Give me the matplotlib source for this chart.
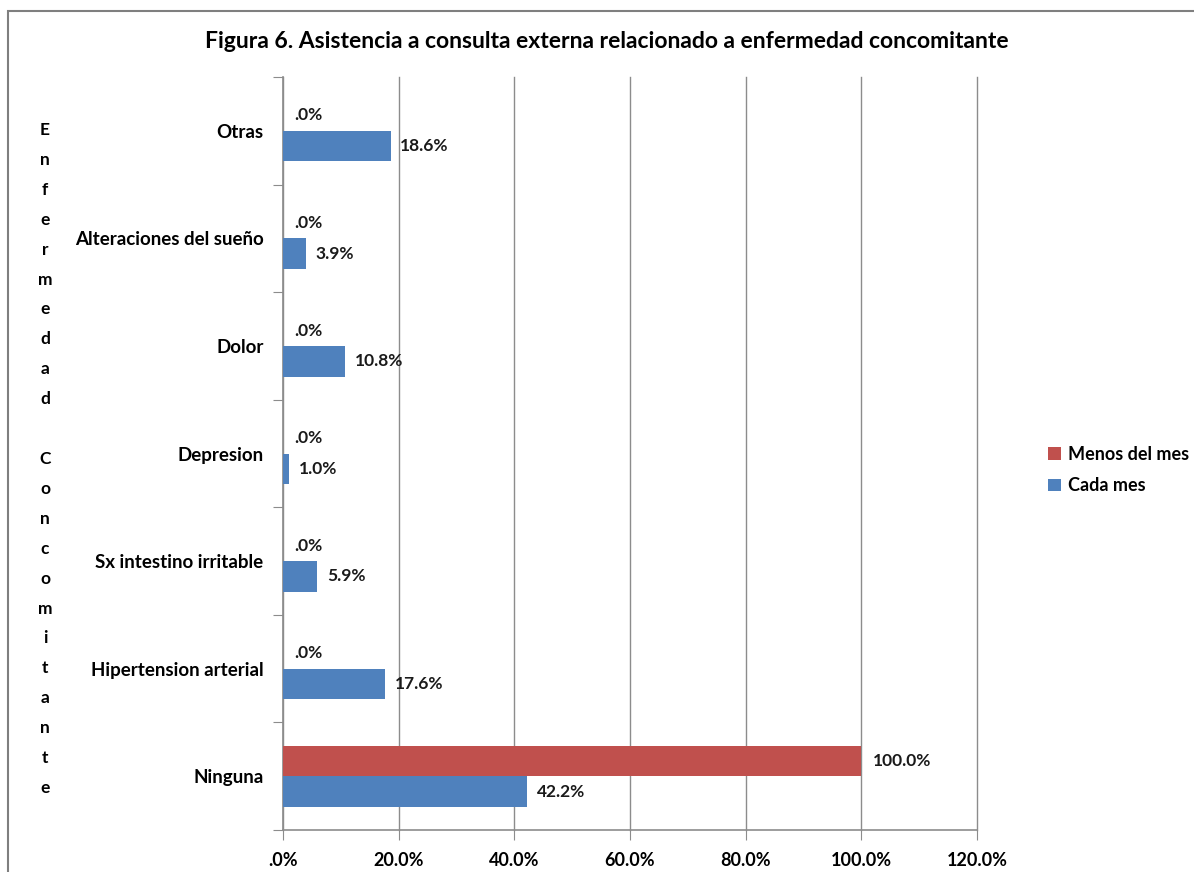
import matplotlib.pyplot as plt
import numpy as np
from matplotlib.patches import Rectangle

categorias = ['Ninguna', 'Hipertension arterial', 'Sx intestino irritable',
              'Depresion', 'Dolor', 'Alteraciones del sueño', 'Otras']
menos_del_mes = [100.0, 0.0, 0.0, 0.0, 0.0, 0.0, 0.0]
cada_mes = [42.2, 17.6, 5.9, 1.0, 10.8, 3.9, 18.6]
ticks_x = [0, 20, 40, 60, 80, 100, 120]
titulo = 'Figura 6. Asistencia a consulta externa relacionado a enfermedad concomitante'
etiqueta_y = 'Enfermedad Concomitante'

ROJO = '#C0504D'
AZUL = '#4F81BD'
GRIS = '#8C8C8C'

plt.rcParams['font.family'] = ['Lato', 'DejaVu Sans']

fig = plt.figure(figsize=(11.94, 8.72), dpi=100)
W, H = 1194, 872

# marco del grafico
fig.patches.append(Rectangle((8 / W, -0.1), 1.2, 1 - 11 / H + 0.1, transform=fig.transFigure,
                             fill=False, edgecolor='#7F7F7F', linewidth=1.5))

ax = fig.add_axes([283 / W, 1 - 830 / H, (977 - 283) / W, (830 - 77) / H])

y = np.arange(len(categorias))
h = 0.285
ax.barh(y + h / 2, menos_del_mes, height=h, color=ROJO, label='Menos del mes', zorder=3)
ax.barh(y - h / 2, cada_mes, height=h, color=AZUL, label='Cada mes', zorder=3)

for yi, v in zip(y, menos_del_mes):
    ax.annotate('.0%' if v == 0 else f'{v:.1f}%', (v, yi + h / 2), xytext=(8, 0),
                textcoords='offset points', va='center', ha='left', fontsize=12.5,
                fontweight='bold', color='#1a1a1a')
for yi, v in zip(y, cada_mes):
    ax.annotate(f'{v:.1f}%', (v, yi - h / 2), xytext=(7, 0),
                textcoords='offset points', va='center', ha='left', fontsize=12.5,
                fontweight='bold', color='#1a1a1a')

ax.set_xlim(0, 120)
ax.set_ylim(-0.5, len(categorias) - 0.5)
ax.set_xticks(ticks_x)
ax.set_xticklabels(['.0%' if t == 0 else f'{t:.1f}%' for t in ticks_x],
                   fontsize=13, fontweight='bold')
ax.set_yticks(np.arange(len(categorias) + 1) - 0.5, minor=False)
ax.set_yticklabels([])
ax.set_yticks(y, minor=True)
ax.set_yticklabels(categorias, minor=True, fontsize=13.5, fontweight='bold')
ax.tick_params(axis='y', which='minor', length=0, pad=14)
ax.tick_params(axis='y', which='major', length=7, color=GRIS)
ax.tick_params(axis='x', length=7, color=GRIS, pad=9)
ax.grid(axis='x', color=GRIS, linewidth=1, zorder=0)
for gl in ax.get_xgridlines():
    gl.set_clip_on(False)
for s in ['top', 'right']:
    ax.spines[s].set_visible(False)
for s in ['left', 'bottom']:
    ax.spines[s].set_color(GRIS)
    ax.spines[s].set_linewidth(1.2)

fig.text(607 / W, 1 - 42 / H, titulo, ha='center', va='center', fontsize=16.5, fontweight='bold')

# letras del eje vertical apiladas
letras = list(etiqueta_y)
paso = (788 - 130) / (len(letras) - 1)
for i, c in enumerate(letras):
    fig.text(45 / W, 1 - (130 + i * paso) / H, c, ha='center', va='center',
             fontsize=12.5, fontweight='bold')

handles, labels = ax.get_legend_handles_labels()
fig.legend(handles, labels, loc='center left', bbox_to_anchor=(1032 / W, 1 - 470 / H),
           frameon=False, handlelength=0.7, handleheight=0.7,
           handletextpad=0.4, labelspacing=0.8, prop={'weight': 'bold', 'size': 13})

fig.savefig('out.png', dpi=100)
